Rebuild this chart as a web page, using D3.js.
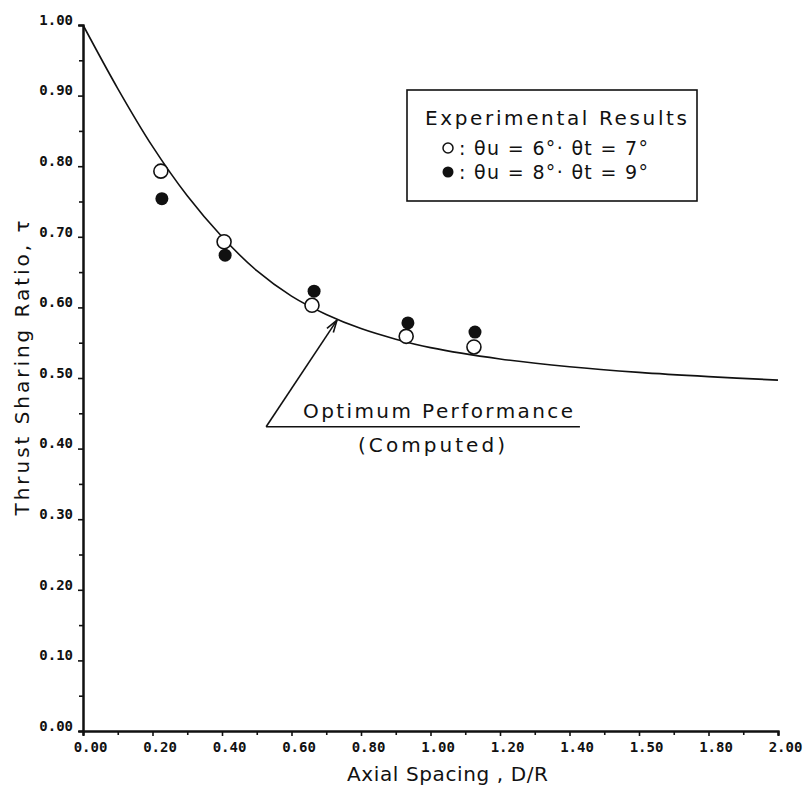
<!DOCTYPE html>
<html>
<head>
<meta charset="utf-8">
<script src="https://cdn.jsdelivr.net/npm/d3@7"></script>
<style>
	body { margin: 0; background: #fff; }
	svg { display: block; }
	.tick text { font-family: 'DejaVu Sans Mono', monospace; font-size: 14px; font-weight: bold; fill: #111; }
	.label { font-family: 'DejaVu Sans', sans-serif; fill: #111; }
</style>
</head>
<body>
<div id="chart"></div>
<script>
// values
const xTicks = [0, 0.2, 0.4, 0.6, 0.8, 1.0, 1.2, 1.4, 1.6, 1.8, 2.0]
const xMinor = [0.1, 0.3, 0.5, 0.7, 0.9, 1.1, 1.3, 1.5, 1.7, 1.9]
const xTickLabels = ['0.00', '0.20', '0.40', '0.60', '0.80', '1.00', '1.20', '1.40', '1.50', '1.80', '2.00']
const yTicks = [0, 0.1, 0.2, 0.3, 0.4, 0.5, 0.6, 0.7, 0.8, 0.9, 1.0]
const yMinor = [0.05, 0.15, 0.25, 0.35, 0.45, 0.55, 0.65, 0.75, 0.85, 0.95]

// optimum performance (computed) curve
const curveX   = [0.00, 0.10, 0.20, 0.30, 0.40, 0.50, 0.60, 0.70, 0.80, 0.90, 1.00, 1.20, 1.40, 1.60, 1.80, 2.00]
const curveTau = [1.000, 0.910, 0.828, 0.758, 0.700, 0.652, 0.616, 0.590, 0.570, 0.555, 0.543, 0.527, 0.516, 0.508, 0.502, 0.497]

// experimental results
const openX    = [0.224, 0.406, 0.659, 0.930, 1.125]
const openTau  = [0.793, 0.693, 0.603, 0.559, 0.544]
const filledX   = [0.227, 0.409, 0.665, 0.935, 1.128]
const filledTau = [0.754, 0.674, 0.623, 0.578, 0.565]

const width = 805, height = 791

const x = d3.scaleLinear().domain([0, 2]).range([83, 778])
const y = d3.scaleLinear().domain([0, 1]).range([731, 25])

const svg = d3.select('#chart').append('svg')
	.attr('width', width).attr('height', height)

// axes
const xAxis = d3.axisBottom(x).tickValues(xTicks).tickSize(5).tickPadding(6)
	.tickFormat((d, i) => xTickLabels[i])
const gx = svg.append('g').attr('transform', `translate(0,${y(0)})`).call(xAxis)
gx.selectAll('text').attr('dx', 7)
svg.append('g').attr('transform', `translate(0,${y(0)})`)
	.call(d3.axisBottom(x).tickValues(xMinor).tickSize(4).tickFormat(''))

const yAxis = d3.axisLeft(y).tickValues(yTicks).tickSize(5).tickPadding(5)
	.tickFormat(d3.format('.2f'))
const gy = svg.append('g').attr('transform', `translate(${x(0)},0)`).call(yAxis)
gy.selectAll('text').attr('dy', '-0.05em')
svg.append('g').attr('transform', `translate(${x(0)},0)`)
	.call(d3.axisLeft(y).tickValues(yMinor).tickSize(4).tickFormat(''))

svg.selectAll('.domain').attr('stroke', '#111').attr('stroke-width', 2)
svg.selectAll('.tick line').attr('stroke', '#111').attr('stroke-width', 1.6)

// axis titles
svg.append('text').attr('class', 'label')
	.attr('x', 347).attr('y', 781)
	.attr('font-size', 20).attr('textLength', 201)
	.text('Axial Spacing , D/R')

svg.append('text').attr('class', 'label')
	.attr('transform', 'translate(29,368) rotate(-90)')
	.attr('text-anchor', 'middle')
	.attr('font-size', 20).attr('textLength', 295)
	.text('Thrust Sharing Ratio, τ')

// curve
const line = d3.line().x(i => x(curveX[i])).y(i => y(curveTau[i])).curve(d3.curveCatmullRom.alpha(0.5))
svg.append('path')
	.attr('d', line(d3.range(curveX.length)))
	.attr('fill', 'none').attr('stroke', '#111').attr('stroke-width', 1.6)

// points
svg.append('g').selectAll('circle').data(d3.range(filledX.length)).join('circle')
	.attr('cx', i => x(filledX[i])).attr('cy', i => y(filledTau[i])).attr('r', 6.5)
	.attr('fill', '#111')
svg.append('g').selectAll('circle').data(d3.range(openX.length)).join('circle')
	.attr('cx', i => x(openX[i])).attr('cy', i => y(openTau[i])).attr('r', 7)
	.attr('fill', '#fff').attr('stroke', '#111').attr('stroke-width', 1.6)

// annotation
const tip = [x(0.731), y(0.582)]
const tail = [x(0.527), y(0.431)]
const ann = svg.append('g').attr('stroke', '#111').attr('stroke-width', 1.6).attr('fill', 'none')
ann.append('line').attr('x1', tail[0]).attr('y1', tail[1]).attr('x2', tip[0]).attr('y2', tip[1])
ann.append('line').attr('x1', tail[0]).attr('y1', tail[1]).attr('x2', x(1.43)).attr('y2', tail[1])
const ang = Math.atan2(tip[1] - tail[1], tip[0] - tail[0])
;[-0.3, 0.3].forEach(a => {
	ann.append('line')
		.attr('x1', tip[0]).attr('y1', tip[1])
		.attr('x2', tip[0] - 13 * Math.cos(ang + a)).attr('y2', tip[1] - 13 * Math.sin(ang + a))
})
svg.append('text').attr('class', 'label')
	.attr('x', 303).attr('y', 418).attr('font-size', 20).attr('textLength', 270)
	.text('Optimum Performance')
svg.append('text').attr('class', 'label')
	.attr('x', 358).attr('y', 452).attr('font-size', 20).attr('textLength', 147)
	.text('(Computed)')

// legend
const legend = svg.append('g')
legend.append('rect')
	.attr('x', 407).attr('y', 90).attr('width', 290).attr('height', 111)
	.attr('fill', '#fff').attr('stroke', '#111').attr('stroke-width', 1.6)
legend.append('text').attr('class', 'label')
	.attr('x', 425).attr('y', 125).attr('font-size', 20).attr('textLength', 262)
	.text('Experimental Results')
legend.append('circle').attr('cx', 448).attr('cy', 148).attr('r', 5)
	.attr('fill', '#fff').attr('stroke', '#111').attr('stroke-width', 1.5)
legend.append('circle').attr('cx', 448).attr('cy', 172).attr('r', 5.5).attr('fill', '#111')
legend.append('text').attr('class', 'label')
	.attr('x', 459).attr('y', 155).attr('font-size', 19).attr('textLength', 189)
	.text(':  θu = 6°· θt = 7°')
legend.append('text').attr('class', 'label')
	.attr('x', 459).attr('y', 179).attr('font-size', 19).attr('textLength', 189)
	.text(':  θu = 8°· θt = 9°')
</script>
</body>
</html>
